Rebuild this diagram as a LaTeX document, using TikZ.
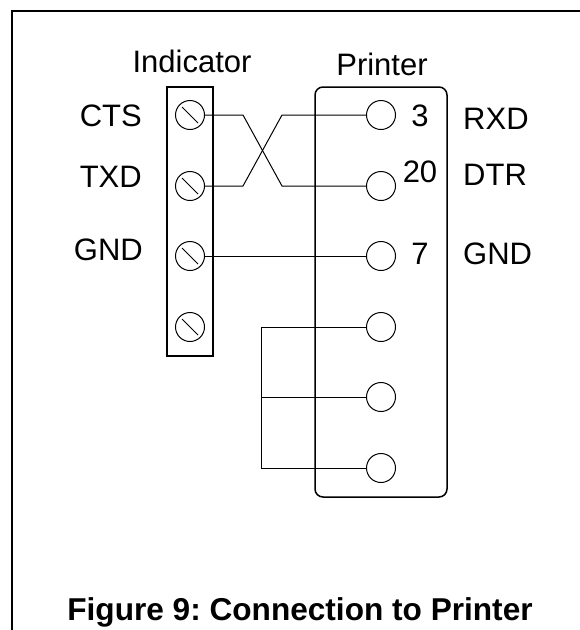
\documentclass[tikz,border=0pt]{standalone}
\usepackage{fontspec}
\setmainfont{Liberation Sans}
\usetikzlibrary{calc}
\frenchspacing

\begin{document}
\begin{tikzpicture}[x=1pt,y=-1pt,
    lbl/.style={font=\fontsize{31}{37}\selectfont, inner sep=0pt},
    screw/.style={circle, draw, line width=1pt, minimum size=29pt, inner sep=0pt,
      path picture={\draw[line width=0.8pt] ([shift={(-8pt,8pt)}]path picture bounding box.center) -- ([shift={(8pt,-8pt)}]path picture bounding box.center);}},
    pin/.style={circle, draw, line width=1pt, minimum size=29pt, inner sep=0pt},
    wire/.style={line width=1pt},
    housing/.style={line width=1.5pt}]

    \useasboundingbox (0,0) rectangle (580,630);

    % Frame
    \draw[housing] (12,630) -- (12,11) -- (580,11);

    % Indicator terminal block
    \draw[housing] (167,87) rectangle (213,356);
    \node[lbl, anchor=base] (indtitle) at (192,72) {Indicator};
    \node[screw] (ind1) at (190,115) {};
    \node[screw] (ind2) at (190,186) {};
    \node[screw] (ind3) at (190,256) {};
    \node[screw] (ind4) at (190,327) {};

    % Printer connector
    \draw[housing, rounded corners=8pt] (315,87) rectangle (447,497);
    \node[lbl, anchor=base] (prttitle) at (382,75) {Printer};
    \node[pin] (pin1) at (381,115) {};
    \node[pin] (pin2) at (381,186) {};
    \node[pin] (pin3) at (381,256) {};
    \node[pin] (pin4) at (381,327) {};
    \node[pin] (pin5) at (381,397) {};
    \node[pin] (pin6) at (381,468) {};

    % Signal names
    \node[lbl, anchor=base east] (cts) at (142,126) {CTS};
    \node[lbl, anchor=base east] (txd) at (142,187) {TXD};
    \node[lbl, anchor=base east] (gndl) at (143,260) {GND};
    \node[lbl, anchor=base] (num3) at (420,126) {3};
    \node[lbl, anchor=base] (num20) at (420,182) {20};
    \node[lbl, anchor=base] (num7) at (420,264) {7};
    \node[lbl, anchor=base west] (rxd) at (463,129) {RXD};
    \node[lbl, anchor=base west] (dtr) at (463,185) {DTR};
    \node[lbl, anchor=base west] (gndr) at (463,264) {GND};

    % Crossed wires
    \draw[wire] (ind1.east) -- ++(38,0) -- ($(pin2.west)+(-84,0)$) -- (pin2.west);
    \draw[wire] (ind2.east) -- ++(38,0) -- ($(pin1.west)+(-84,0)$) -- (pin1.west);

    % Ground
    \draw[wire] (ind3.east) -- (pin3.west);

    % Loop-back on the printer side
    \coordinate (bus) at (261,0);
    \draw[wire] (pin4.west) -- (pin4.west -| bus) -- (pin6.west -| bus) -- (pin6.west);
    \draw[wire] (pin5.west) -- (pin5.west -| bus);

    % Caption
    \node[lbl, font=\bfseries\fontsize{31.6}{38}\selectfont, anchor=base] (caption) at (300,620) {Figure 9: Connection to Printer};

\end{tikzpicture}
\end{document}
